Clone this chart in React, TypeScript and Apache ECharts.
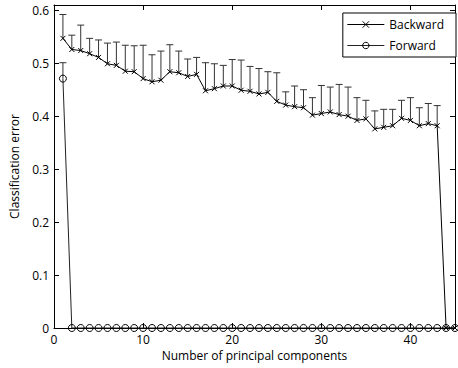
import React, { useEffect, useRef } from "react";
import * as echarts from "echarts";

const components: number[] = [
  1, 2, 3, 4, 5, 6, 7, 8, 9, 10, 11, 12, 13, 14, 15, 16, 17, 18, 19, 20, 21, 22,
  23, 24, 25, 26, 27, 28, 29, 30, 31, 32, 33, 34, 35, 36, 37, 38, 39, 40, 41, 42,
  43, 44, 45,
];
const backwardMean: number[] = [
  0.547, 0.526, 0.524, 0.518, 0.511, 0.499, 0.496, 0.485, 0.484, 0.471, 0.465,
  0.468, 0.484, 0.482, 0.475, 0.479, 0.448, 0.452, 0.457, 0.457, 0.449, 0.447,
  0.442, 0.445, 0.428, 0.421, 0.418, 0.416, 0.402, 0.405, 0.408, 0.403, 0.4,
  0.392, 0.395, 0.376, 0.379, 0.382, 0.396, 0.392, 0.382, 0.386, 0.382, 0, 0,
];
const backwardUpper: number[] = [
  0.592, 0.553, 0.572, 0.547, 0.544, 0.538, 0.54, 0.534, 0.533, 0.534, 0.516,
  0.523, 0.535, 0.523, 0.508, 0.511, 0.501, 0.499, 0.496, 0.507, 0.506, 0.494,
  0.49, 0.484, 0.482, 0.446, 0.457, 0.45, 0.435, 0.458, 0.455, 0.46, 0.455,
  0.435, 0.43, 0.41, 0.413, 0.413, 0.43, 0.435, 0.416, 0.424, 0.42, 0, 0,
];
const forwardMean: number[] = [
  0.471, 0, 0, 0, 0, 0, 0, 0, 0, 0, 0, 0, 0, 0, 0, 0, 0, 0, 0, 0, 0, 0, 0, 0, 0,
  0, 0, 0, 0, 0, 0, 0, 0, 0, 0, 0, 0, 0, 0, 0, 0, 0, 0, 0, 0,
];
const forwardUpper: number[] = [
  0.501, 0, 0, 0, 0, 0, 0, 0, 0, 0, 0, 0, 0, 0, 0, 0, 0, 0, 0, 0, 0, 0, 0, 0, 0,
  0, 0, 0, 0, 0, 0, 0, 0, 0, 0, 0, 0, 0, 0, 0, 0, 0, 0, 0, 0,
];
const xTitle = "Number of principal components";
const yTitle = "Classification error";
const seriesNames = ["Backward", "Forward"];

const FONT = "Open Sans";

export default function App() {
  const ref = useRef<HTMLDivElement>(null);
  useEffect(() => {
    if (!ref.current) return;
    const chart = echarts.init(ref.current, undefined, { renderer: "svg" });

    const errData = (mean: number[], up: number[]) =>
      components
        .map((x, i) => [x, mean[i], up[i]])
        .filter((d) => d[2] > d[1]);

    const renderErr = (params: any, api: any) => {
      const x = api.value(0);
      const lo = api.value(1);
      const hi = api.value(2);
      const p0 = api.coord([x, lo]);
      const p1 = api.coord([x, hi]);
      const w = 3.5;
      const st = { stroke: "#333", lineWidth: 1 };
      return {
        type: "group",
        children: [
          { type: "line", shape: { x1: p0[0], y1: p0[1], x2: p1[0], y2: p1[1] }, style: st },
          { type: "line", shape: { x1: p1[0] - w, y1: p1[1], x2: p1[0] + w, y2: p1[1] }, style: st },
        ],
      };
    };

    const axisCommon = {
      axisLine: { show: true, onZero: false, lineStyle: { color: "#000", width: 1 } },
      axisTick: { show: true, inside: true, length: 5, lineStyle: { color: "#000" } },
      splitLine: { show: false },
    };
    const labelStyle = { color: "#000", fontFamily: FONT, fontSize: 12 };

    chart.setOption({
      animation: false,
      backgroundColor: "#fff",
      grid: { left: 52, right: 3, top: 5, bottom: 40, containLabel: false },
      xAxis: [
        {
          type: "value",
          min: 0,
          max: 45,
          interval: 10,
          position: "bottom",
          ...axisCommon,
          axisLabel: { ...labelStyle, margin: 5, showMaxLabel: false },
          name: xTitle,
          nameLocation: "middle",
          nameGap: 20,
          nameTextStyle: { ...labelStyle },
        },
        {
          type: "value",
          min: 0,
          max: 45,
          interval: 10,
          position: "top",
          ...axisCommon,
          axisLabel: { show: false },
        },
      ],
      yAxis: [
        {
          type: "value",
          min: 0,
          max: 0.61,
          interval: 0.1,
          position: "left",
          ...axisCommon,
          axisLabel: {
            ...labelStyle,
            margin: 5,
            showMaxLabel: false,
            formatter: (v: number) => (v === 0 ? "0" : v.toFixed(1)),
          },
          name: yTitle,
          nameLocation: "middle",
          nameGap: 34,
          nameTextStyle: { ...labelStyle },
        },
        {
          type: "value",
          min: 0,
          max: 0.61,
          interval: 0.1,
          position: "right",
          ...axisCommon,
          axisLabel: { show: false },
        },
      ],
      legend: {
        orient: "vertical",
        right: 2,
        top: 13,
        backgroundColor: "#fff",
        borderColor: "#000",
        borderWidth: 1,
        borderRadius: 0,
        padding: [5, 12, 5, 4],
        itemGap: 8,
        itemWidth: 37,
        itemHeight: 8,
        lineStyle: { width: 1 },
        itemStyle: { borderWidth: 1 },
        textStyle: { ...labelStyle, lineHeight: 13 },
        data: seriesNames,
      },
      series: [
        {
          type: "custom",
          name: "BackwardErr",
          xAxisIndex: 0,
          yAxisIndex: 0,
          renderItem: renderErr,
          data: errData(backwardMean, backwardUpper),
          encode: { x: 0, y: [1, 2] },
          z: 1,
          silent: true,
        },
        {
          type: "custom",
          name: "ForwardErr",
          xAxisIndex: 0,
          yAxisIndex: 0,
          renderItem: renderErr,
          data: errData(forwardMean, forwardUpper),
          encode: { x: 0, y: [1, 2] },
          z: 1,
          silent: true,
        },
        {
          type: "line",
          name: seriesNames[0],
          xAxisIndex: 0,
          yAxisIndex: 0,
          data: components.map((x, i) => [x, backwardMean[i]]),
          symbol: "path://M0 0L10 10M10 0L0 10",
          symbolSize: 5,
          showSymbol: true,
          itemStyle: { color: "#000", borderColor: "#000", borderWidth: 1 },
          lineStyle: { color: "#000", width: 1 },
          z: 3,
        },
        {
          type: "line",
          name: seriesNames[1],
          xAxisIndex: 0,
          yAxisIndex: 0,
          data: components.map((x, i) => [x, forwardMean[i]]),
          symbol: "circle",
          symbolSize: 7,
          showSymbol: true,
          itemStyle: { color: "rgba(0,0,0,0)", borderColor: "#000", borderWidth: 1 },
          lineStyle: { color: "#222", width: 1 },
          z: 2,
        },
      ],
    });
    return () => chart.dispose();
  }, []);
  return (
    <div
      ref={ref}
      style={{ position: "fixed", left: 0, top: 0, width: 458, height: 368 }}
    />
  );
}
